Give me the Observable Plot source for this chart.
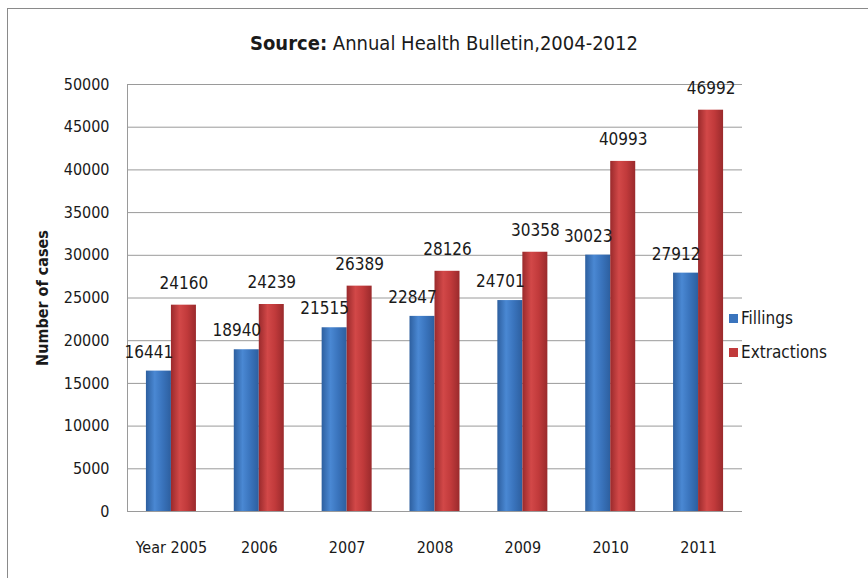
<!DOCTYPE html>
<html><head><meta charset="utf-8">
<script src="https://cdn.jsdelivr.net/npm/d3@7"></script>
<script src="https://cdn.jsdelivr.net/npm/@observablehq/plot@0.6"></script>
<style>
body{margin:0;background:#fff;font-family:"DejaVu Sans Condensed","DejaVu Sans",sans-serif;font-stretch:condensed;color:#1a1a1a;}
#wrap{position:relative;width:868px;height:578px;overflow:hidden;}
#border{position:absolute;left:7px;top:8px;width:920px;height:640px;border:1.5px solid #8a8a8a;box-sizing:border-box;}
#title{position:absolute;top:31px;left:0;width:888px;text-align:center;font-size:20px;}
#chart{position:absolute;left:0;top:0;}
#legend{position:absolute;left:729px;top:301px;font-size:17px;}
.li{display:flex;align-items:center;height:34px;}
.sw{width:9px;height:9px;margin-right:3px;}
svg text{font-family:"DejaVu Sans Condensed","DejaVu Sans",sans-serif;font-stretch:condensed;}
g[aria-label="y-axis label"] text{font-weight:bold;}
</style></head>
<body>
<div id="wrap">
<div id="border"></div>
<div id="title"><b>Source:</b> Annual Health Bulletin,2004-2012</div>
<div id="chart"></div>
<div id="legend"></div>
</div>
<script>
const years = ["2005","2006","2007","2008","2009","2010","2011"];
const tickLabels = ["Year 2005","2006","2007","2008","2009","2010","2011"];
const seriesNames = ["Fillings","Extractions"];
const fillings = [16441,18940,21515,22847,24701,30023,27912];
const extractions = [24160,24239,26389,28126,30358,40993,46992];
const yTicks = [0,5000,10000,15000,20000,25000,30000,35000,40000,45000,50000];
const colors = {Fillings:"#3a74bd", Extractions:"#c13a3b"};

const half = 0.2846;
const fillData = years.map((y,i)=>({i, series:"Fillings", value:fillings[i], x1:i-half, x2:i}));
const extData = years.map((y,i)=>({i, series:"Extractions", value:extractions[i], x1:i, x2:i+half}));

const plot = Plot.plot({
  width:868, height:578,
  marginLeft:127, marginRight:126, marginTop:84, marginBottom:67,
  style:{fontSize:"16px", color:"#1a1a1a", background:"transparent"},
  x:{domain:[-0.5,6.5], ticks:d3.range(years.length), tickFormat:i=>tickLabels[i], tickSize:0, tickPadding:30, label:null},
  y:{domain:[0,50000], ticks:yTicks, tickFormat:d=>String(d), tickSize:0, tickPadding:18,
     label:"Number of cases", labelAnchor:"center", labelOffset:91, labelArrow:"none"},
  marks:[
    Plot.gridY(yTicks,{stroke:"#9a9a9a", strokeOpacity:1}),
    Plot.ruleX([-0.5],{stroke:"#9a9a9a"}),
    Plot.ruleY([0],{stroke:"#9a9a9a"}),
    Plot.rectY(fillData,{x1:"x1",x2:"x2",y:"value",fill:"url(#gradBlue)"}),
    Plot.rectY(extData,{x1:"x1",x2:"x2",y:"value",fill:"url(#gradRed)"}),
    Plot.text(fillData,{x:d=>(d.x1+d.x2)/2, y:"value", text:d=>String(d.value), dy:-19, dx:-10, fontSize:17, fill:"#1a1a1a"}),
    Plot.text(extData,{x:d=>(d.x1+d.x2)/2, y:"value", text:d=>String(d.value), dy:-22, fontSize:17, fill:"#1a1a1a"})
  ]
});
document.getElementById("chart").appendChild(plot);

const svg = d3.select(plot);
const defs = svg.insert("defs",":first-child");
function grad(id, edge, mid, light){
  const g = defs.append("linearGradient").attr("id",id).attr("x1","0").attr("x2","1").attr("y1","0").attr("y2","0");
  g.append("stop").attr("offset","0%").attr("stop-color",edge);
  g.append("stop").attr("offset","35%").attr("stop-color",light);
  g.append("stop").attr("offset","65%").attr("stop-color",mid);
  g.append("stop").attr("offset","100%").attr("stop-color",edge);
}
grad("gradBlue","#2d5f9f","#3a74bd","#4a88d3");
grad("gradRed","#9a2a2c","#c13a3b","#d24848");

const legend = d3.select("#legend");
seriesNames.forEach(s=>{
  const row = legend.append("div").attr("class","li");
  row.append("div").attr("class","sw").style("background",colors[s]);
  row.append("span").text(s);
});
</script>
</body></html>
